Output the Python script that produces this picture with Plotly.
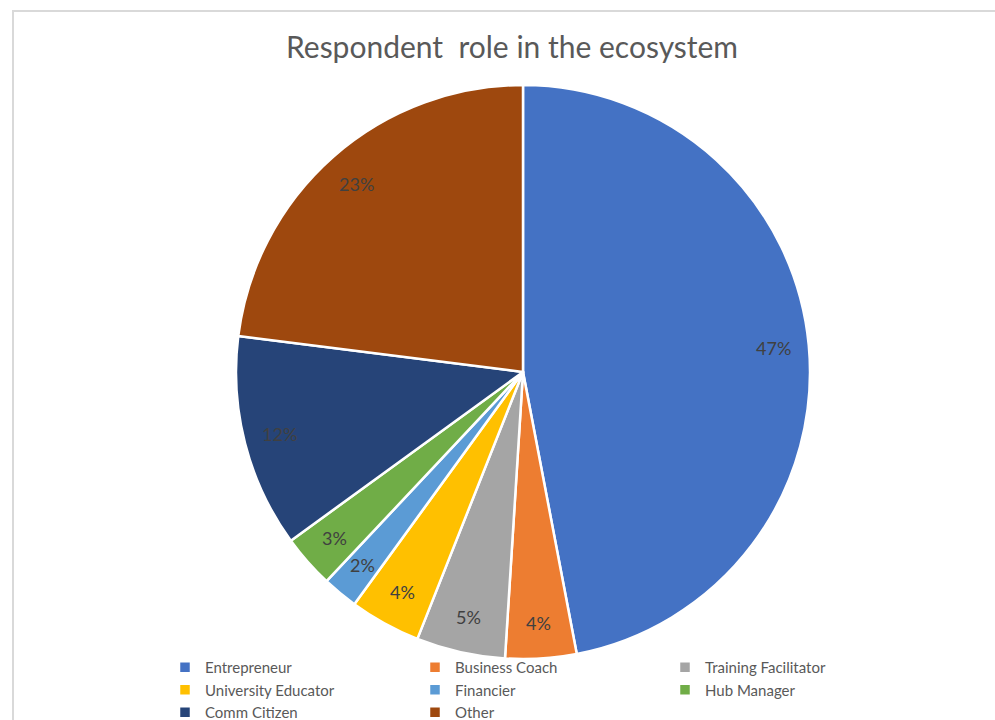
import math
import plotly.graph_objects as go

# Survey breakdown: share of respondents by role
roles = [
    "Entrepreneur",
    "Business Coach",
    "Training Facilitator",
    "University Educator",
    "Financier",
    "Hub Manager",
    "Comm Citizen",
    "Other",
]
shares = [47, 4, 5, 4, 2, 3, 12, 23]
colors = [
    "#4472C4",
    "#ED7D31",
    "#A5A5A5",
    "#FFC000",
    "#5B9BD5",
    "#70AD47",
    "#264478",
    "#9E480E",
]

W, H = 995, 720
cx, cy, r = 523, 372, 287  # pie centre and radius in pixels
FONT = "Lato, Open Sans, sans-serif"

fig = go.Figure(
    go.Pie(
        labels=roles,
        values=shares,
        sort=False,
        direction="clockwise",
        rotation=0,
        marker=dict(colors=colors, line=dict(color="white", width=2.5)),
        textinfo="none",
        domain=dict(
            x=[(cx - r) / W, (cx + r) / W],
            y=[1 - (cy + r) / H, 1 - (cy - r) / H],
        ),
        hoverinfo="label+percent",
    )
)

# Percentage labels placed near the outer end of each slice
total = sum(shares)
annotations = []
cum = 0.0
for v in shares:
    mid = (cum + v / 2) / total * 2 * math.pi
    cum += v
    rr = 0.875 * r
    px = cx + rr * math.sin(mid)
    py = cy - rr * math.cos(mid)
    annotations.append(
        dict(
            x=px / W,
            y=1 - py / H,
            xref="paper",
            yref="paper",
            text=f"{v}%",
            showarrow=False,
            xanchor="center",
            yanchor="middle",
            font=dict(family=FONT, size=18, color="#404040"),
        )
    )

fig.update_layout(
    width=W,
    height=H,
    margin=dict(l=0, r=0, t=0, b=0, autoexpand=False),
    paper_bgcolor="white",
    plot_bgcolor="white",
    font=dict(family=FONT, color="#595959"),
    title=dict(
        text="Respondent  role in the ecosystem",
        x=512 / W,
        xanchor="center",
        y=1 - 47 / H,
        yanchor="middle",
        yref="container",
        font=dict(size=30, color="#595959"),
    ),
    legend=dict(
        orientation="h",
        x=165 / W,
        xanchor="left",
        y=1 - 651 / H,
        yanchor="top",
        entrywidth=205,
        entrywidthmode="pixels",
        font=dict(size=15, color="#595959"),
        itemwidth=30,
        tracegroupgap=0,
        bgcolor="rgba(0,0,0,0)",
    ),
    annotations=annotations,
    shapes=[
        dict(
            type="rect",
            xref="paper",
            yref="paper",
            x0=13 / W,
            x1=1.02,
            y0=-0.02,
            y1=1 - 11 / H,
            line=dict(color="#D9D9D9", width=2),
            fillcolor="rgba(0,0,0,0)",
            layer="below",
        )
    ],
)

fig.write_html("out.html")
